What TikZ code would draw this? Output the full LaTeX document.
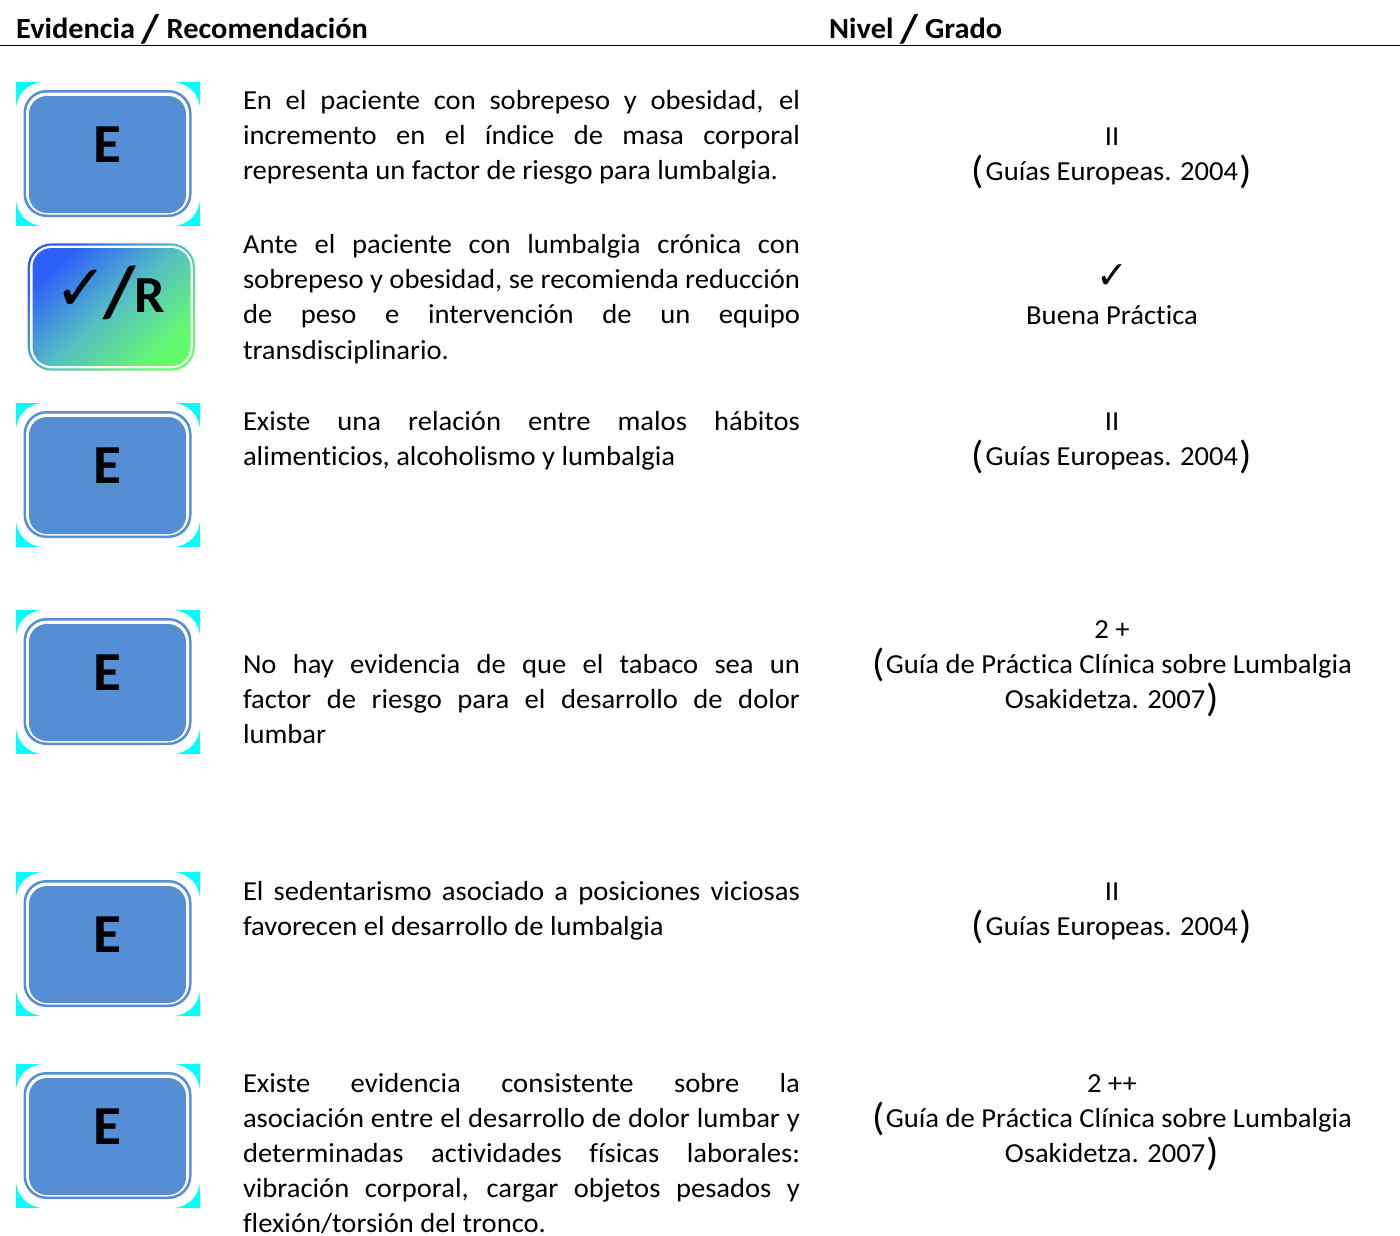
\documentclass[tikz,border=0pt]{standalone}
\usepackage{fontspec}
\setmainfont[FakeStretch=1.04,Ligatures=NoCommon]{Carlito}
\newfontfamily\symfont{DejaVu Sans}
\usetikzlibrary{calc}
\definecolor{eblue}{RGB}{85,142,213}
\definecolor{puretile}{RGB}{0,255,255}
\definecolor{gtl}{RGB}{45,95,250}
\definecolor{gbr}{RGB}{100,250,110}
\definecolor{gmid}{RGB}{85,190,195}
\newcommand{\bodyfs}{\fontsize{27.5pt}{35.2pt}\selectfont}
\newcommand{\J}[1]{\makebox[557pt][s]{#1}\\}
\newcommand{\Para}[1]{\parbox[t]{570pt}{\bodyfs\baselineskip=35.2pt\lineskip=0pt\raggedright #1}}
\newcommand{\Lp}{\raisebox{-3pt}{\fontsize{39pt}{39pt}\selectfont(}\hspace{1.5pt}}
\newcommand{\Rp}{\hspace{1.5pt}\raisebox{-3pt}{\fontsize{39pt}{39pt}\selectfont)}}
\newcommand{\Hs}{\raisebox{-4pt}{\fontsize{40pt}{40pt}\selectfont /}}
\newcommand{\EBox}[2]{%
  \fill[puretile] ($(#2)+(-92,-72)$) rectangle ($(#2)+(92,72)$);
  \fill[white,rounded corners=28pt] ($(#2)+(-92,-72)$) rectangle ($(#2)+(92,72)$);
  \fill[eblue,rounded corners=23pt] ($(#2)+(-84.5,-64)$) rectangle ($(#2)+(83.5,63)$);
  \fill[white,rounded corners=21pt] ($(#2)+(-82,-61.5)$) rectangle ($(#2)+(81,60.5)$);
  \node[etile] (#1) at (#2) {\raisebox{20pt}{E}};
}
\tikzset{
  x=1pt,y=-1pt,
  etile/.style={fill=eblue,draw=none,rounded corners=18pt,minimum width=157pt,minimum height=117pt,inner sep=0pt,
    xshift=-.5pt,yshift=-.5pt,text=black,font=\fontsize{55pt}{55pt}\selectfont\bfseries},
  para/.style={anchor=base west,inner sep=0pt,outer sep=0pt},
  level/.style={anchor=base,inner sep=0pt,align=center,font=\bodyfs,text=black},
  head/.style={anchor=base west,inner sep=0pt,font=\fontsize{29.2pt}{30pt}\selectfont\bfseries},
}
\begin{document}
\begin{tikzpicture}
\useasboundingbox (0,0) rectangle (1400,1235);
\node[head] (h1) at (16,38.2) {Evidencia \Hs{} Recomendación};
\node[head] (h2) at (829,38.2) {Nivel \Hs{} Grado};
\draw[black,line width=1pt] (0,45.5) -- (1400,45.5);

\coordinate (c1) at (108,154);
\coordinate (c3) at (108,475);
\coordinate (c4) at (108,682);
\coordinate (c5) at (108,944);
\coordinate (c6) at (108,1136);
\EBox{e1}{c1}
\EBox{e3}{c3}
\EBox{e4}{c4}
\EBox{e5}{c5}
\EBox{e6}{c6}

% gradient box
\shade[rounded corners=24pt,left color=gtl,right color=gbr,middle color=gmid,shading angle=42]
  (27.7,243.3) rectangle (195,370.7);
\fill[white,rounded corners=22pt] (30,245.6) rectangle (192.8,368.4);
\shade[rounded corners=19pt,left color=gtl,right color=gbr,middle color=gmid,shading angle=42]
  (32.5,248) rectangle (190.5,366);
\node[inner sep=0pt,anchor=base] (r1) at (110,312)
  {\fontsize{52pt}{52pt}\selectfont\bfseries\raisebox{2pt}{\symfont\fontsize{64pt}{64pt}\selectfont ✓}\hspace{-5pt}\raisebox{-4pt}{\fontsize{72pt}{72pt}\selectfont /}\hspace{-1pt}R};

% body text
\node[para] (t1) at (243,109.5) {\Para{\J{En el paciente con sobrepeso y obesidad, el}\J{incremento en el índice de masa corporal}representa un factor de riesgo para lumbalgia.}};
\node[para] (t2) at (243,253.5) {\Para{\J{Ante el paciente con lumbalgia crónica con}\J{sobrepeso y obesidad, se recomienda reducción}\J{de peso e intervención de un equipo}transdisciplinario.}};
\node[para] (t3) at (243,430) {\Para{\J{Existe una relación entre malos hábitos}alimenticios, alcoholismo y lumbalgia}};
\node[para] (t4) at (243,673) {\Para{\J{No hay evidencia de que el tabaco sea un}\J{factor de riesgo para el desarrollo de dolor}lumbar}};
\node[para] (t5) at (243,900) {\Para{\J{El sedentarismo asociado a posiciones viciosas}favorecen el desarrollo de lumbalgia}};
\node[para] (t6) at (243,1092) {\Para{\J{Existe evidencia consistente sobre la}\J{asociación entre el desarrollo de dolor lumbar y}\J{determinadas actividades físicas laborales:}\J{vibración corporal, cargar objetos pesados y}flexión/torsión del tronco.}};

% level text
\node[level] (l1) at (1112,180.8) {II\\\Lp{}Guías Europeas. 2004\Rp};
\node[level] (l2) at (1112,324) {{\symfont\fontsize{38pt}{35.2pt}\selectfont ✓}\\Buena Práctica};
\node[level] (l3) at (1112,465.5) {II\\\Lp{}Guías Europeas. 2004\Rp};
\node[level] (l4) at (1112,708.5) {2 +\\\Lp{}Guía de Práctica Clínica sobre Lumbalgia\\Osakidetza. 2007\Rp};
\node[level] (l5) at (1112,935.5) {II\\\Lp{}Guías Europeas. 2004\Rp};
\node[level] (l6) at (1112,1162.5) {2 ++\\\Lp{}Guía de Práctica Clínica sobre Lumbalgia\\Osakidetza. 2007\Rp};
\end{tikzpicture}
\end{document}
